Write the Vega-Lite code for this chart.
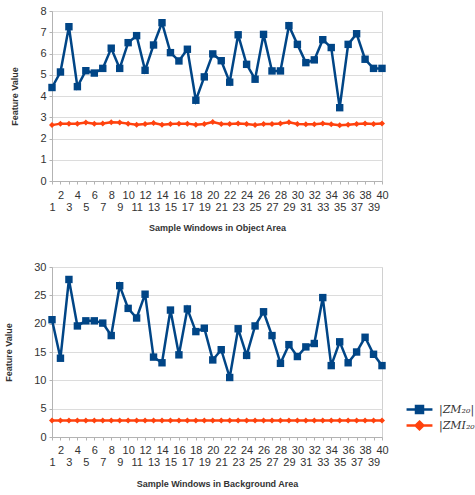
{
  "$schema": "https://vega.github.io/schema/vega-lite/v6.json",
  "background": "white",
  "padding": {"left": 4, "top": 4, "right": 0, "bottom": 0},
  "spacing": 27,
  "config": {
    "view": {"stroke": "#d0d0d0", "strokeWidth": 1},
    "axis": {
      "labelFont": "Liberation Sans", "labelFontSize": 11, "labelColor": "#333333",
      "titleFont": "Liberation Sans", "titleFontSize": 9, "titleFontWeight": "bold", "titleColor": "#333333",
      "domainColor": "#b3b3b3", "tickColor": "#b3b3b3", "gridColor": "#dcdcdc", "tickSize": 3
    },
    "legend": {"labelFont": "DejaVu Serif", "labelFontStyle": "italic", "labelFontSize": 11, "labelColor": "#333333"}
  },
  "resolve": {"legend": {"color": "independent"}},
  "datasets": {
    "object": [
      {"w":1,"s":"ZM","v":4.40},{"w":2,"s":"ZM","v":5.13},{"w":3,"s":"ZM","v":7.26},{"w":4,"s":"ZM","v":4.44},{"w":5,"s":"ZM","v":5.19},
      {"w":6,"s":"ZM","v":5.08},{"w":7,"s":"ZM","v":5.30},{"w":8,"s":"ZM","v":6.25},{"w":9,"s":"ZM","v":5.30},{"w":10,"s":"ZM","v":6.51},
      {"w":11,"s":"ZM","v":6.84},{"w":12,"s":"ZM","v":5.21},{"w":13,"s":"ZM","v":6.40},{"w":14,"s":"ZM","v":7.45},{"w":15,"s":"ZM","v":6.04},
      {"w":16,"s":"ZM","v":5.65},{"w":17,"s":"ZM","v":6.20},{"w":18,"s":"ZM","v":3.80},{"w":19,"s":"ZM","v":4.90},{"w":20,"s":"ZM","v":5.98},
      {"w":21,"s":"ZM","v":5.66},{"w":22,"s":"ZM","v":4.65},{"w":23,"s":"ZM","v":6.88},{"w":24,"s":"ZM","v":5.49},{"w":25,"s":"ZM","v":4.79},
      {"w":26,"s":"ZM","v":6.90},{"w":27,"s":"ZM","v":5.18},{"w":28,"s":"ZM","v":5.18},{"w":29,"s":"ZM","v":7.31},{"w":30,"s":"ZM","v":6.43},
      {"w":31,"s":"ZM","v":5.57},{"w":32,"s":"ZM","v":5.70},{"w":33,"s":"ZM","v":6.65},{"w":34,"s":"ZM","v":6.28},{"w":35,"s":"ZM","v":3.45},
      {"w":36,"s":"ZM","v":6.43},{"w":37,"s":"ZM","v":6.93},{"w":38,"s":"ZM","v":5.73},{"w":39,"s":"ZM","v":5.30},{"w":40,"s":"ZM","v":5.30},
      {"w":1,"s":"ZMI","v":2.63},{"w":2,"s":"ZMI","v":2.70},{"w":3,"s":"ZMI","v":2.70},{"w":4,"s":"ZMI","v":2.70},{"w":5,"s":"ZMI","v":2.75},
      {"w":6,"s":"ZMI","v":2.70},{"w":7,"s":"ZMI","v":2.71},{"w":8,"s":"ZMI","v":2.76},{"w":9,"s":"ZMI","v":2.75},{"w":10,"s":"ZMI","v":2.70},
      {"w":11,"s":"ZMI","v":2.65},{"w":12,"s":"ZMI","v":2.68},{"w":13,"s":"ZMI","v":2.73},{"w":14,"s":"ZMI","v":2.65},{"w":15,"s":"ZMI","v":2.68},
      {"w":16,"s":"ZMI","v":2.70},{"w":17,"s":"ZMI","v":2.70},{"w":18,"s":"ZMI","v":2.65},{"w":19,"s":"ZMI","v":2.68},{"w":20,"s":"ZMI","v":2.78},
      {"w":21,"s":"ZMI","v":2.68},{"w":22,"s":"ZMI","v":2.68},{"w":23,"s":"ZMI","v":2.71},{"w":24,"s":"ZMI","v":2.68},{"w":25,"s":"ZMI","v":2.63},
      {"w":26,"s":"ZMI","v":2.68},{"w":27,"s":"ZMI","v":2.68},{"w":28,"s":"ZMI","v":2.71},{"w":29,"s":"ZMI","v":2.76},{"w":30,"s":"ZMI","v":2.68},
      {"w":31,"s":"ZMI","v":2.67},{"w":32,"s":"ZMI","v":2.67},{"w":33,"s":"ZMI","v":2.71},{"w":34,"s":"ZMI","v":2.67},{"w":35,"s":"ZMI","v":2.62},
      {"w":36,"s":"ZMI","v":2.65},{"w":37,"s":"ZMI","v":2.68},{"w":38,"s":"ZMI","v":2.71},{"w":39,"s":"ZMI","v":2.68},{"w":40,"s":"ZMI","v":2.71}
    ],
    "background": [
      {"w":1,"s":"ZM","v":20.7},{"w":2,"s":"ZM","v":13.9},{"w":3,"s":"ZM","v":27.8},{"w":4,"s":"ZM","v":19.6},{"w":5,"s":"ZM","v":20.5},
      {"w":6,"s":"ZM","v":20.5},{"w":7,"s":"ZM","v":20.1},{"w":8,"s":"ZM","v":17.9},{"w":9,"s":"ZM","v":26.7},{"w":10,"s":"ZM","v":22.7},
      {"w":11,"s":"ZM","v":21.0},{"w":12,"s":"ZM","v":25.2},{"w":13,"s":"ZM","v":14.1},{"w":14,"s":"ZM","v":13.1},{"w":15,"s":"ZM","v":22.4},
      {"w":16,"s":"ZM","v":14.5},{"w":17,"s":"ZM","v":22.6},{"w":18,"s":"ZM","v":18.6},{"w":19,"s":"ZM","v":19.2},{"w":20,"s":"ZM","v":13.6},
      {"w":21,"s":"ZM","v":15.4},{"w":22,"s":"ZM","v":10.5},{"w":23,"s":"ZM","v":19.1},{"w":24,"s":"ZM","v":14.4},{"w":25,"s":"ZM","v":19.6},
      {"w":26,"s":"ZM","v":22.1},{"w":27,"s":"ZM","v":17.9},{"w":28,"s":"ZM","v":13.0},{"w":29,"s":"ZM","v":16.3},{"w":30,"s":"ZM","v":14.2},
      {"w":31,"s":"ZM","v":15.9},{"w":32,"s":"ZM","v":16.5},{"w":33,"s":"ZM","v":24.6},{"w":34,"s":"ZM","v":12.6},{"w":35,"s":"ZM","v":16.8},
      {"w":36,"s":"ZM","v":13.1},{"w":37,"s":"ZM","v":15.0},{"w":38,"s":"ZM","v":17.6},{"w":39,"s":"ZM","v":14.6},{"w":40,"s":"ZM","v":12.6},
      {"w":1,"s":"ZMI","v":2.9},{"w":2,"s":"ZMI","v":2.9},{"w":3,"s":"ZMI","v":2.9},{"w":4,"s":"ZMI","v":2.9},{"w":5,"s":"ZMI","v":2.9},
      {"w":6,"s":"ZMI","v":2.9},{"w":7,"s":"ZMI","v":2.9},{"w":8,"s":"ZMI","v":2.9},{"w":9,"s":"ZMI","v":2.9},{"w":10,"s":"ZMI","v":2.9},
      {"w":11,"s":"ZMI","v":2.9},{"w":12,"s":"ZMI","v":2.9},{"w":13,"s":"ZMI","v":2.9},{"w":14,"s":"ZMI","v":2.9},{"w":15,"s":"ZMI","v":2.9},
      {"w":16,"s":"ZMI","v":2.9},{"w":17,"s":"ZMI","v":2.9},{"w":18,"s":"ZMI","v":2.9},{"w":19,"s":"ZMI","v":2.9},{"w":20,"s":"ZMI","v":2.9},
      {"w":21,"s":"ZMI","v":2.9},{"w":22,"s":"ZMI","v":2.9},{"w":23,"s":"ZMI","v":2.9},{"w":24,"s":"ZMI","v":2.9},{"w":25,"s":"ZMI","v":2.9},
      {"w":26,"s":"ZMI","v":2.9},{"w":27,"s":"ZMI","v":2.9},{"w":28,"s":"ZMI","v":2.9},{"w":29,"s":"ZMI","v":2.9},{"w":30,"s":"ZMI","v":2.9},
      {"w":31,"s":"ZMI","v":2.9},{"w":32,"s":"ZMI","v":2.9},{"w":33,"s":"ZMI","v":2.9},{"w":34,"s":"ZMI","v":2.9},{"w":35,"s":"ZMI","v":2.9},
      {"w":36,"s":"ZMI","v":2.9},{"w":37,"s":"ZMI","v":2.9},{"w":38,"s":"ZMI","v":2.9},{"w":39,"s":"ZMI","v":2.9},{"w":40,"s":"ZMI","v":2.9}
    ]
  },
  "vconcat": [
    {
      "width": 330, "height": 170,
      "data": {"name": "object"},
      "encoding": {
        "x": {"field": "w", "type": "quantitative", "scale": {"domain": [1, 40], "nice": false, "zero": false},
          "axis": {"title": "Sample Windows in Object Area", "grid": false, "values": [1,2,3,4,5,6,7,8,9,10,11,12,13,14,15,16,17,18,19,20,21,22,23,24,25,26,27,28,29,30,31,32,33,34,35,36,37,38,39,40],
            "labelExpr": "datum.value % 2 == 1 ? ['', datum.label] : datum.label", "labelOverlap": false, "labelBound": false, "labelFlush": false, "labelLineHeight": 12, "labelPadding": 5, "titlePadding": 11}},
        "y": {"field": "v", "type": "quantitative", "scale": {"domain": [0, 8], "nice": false},
          "axis": {"title": "Feature Value", "values": [0,1,2,3,4,5,6,7,8], "labelPadding": 3, "titlePadding": 20}},
        "color": {"field": "s", "type": "nominal", "scale": {"domain": ["ZM", "ZMI"], "range": ["#004586", "#ff420e"]}, "legend": null}
      },
      "layer": [
        {"mark": {"type": "line", "strokeWidth": 2.5}},
        {"mark": {"type": "point", "filled": true, "opacity": 1},
          "encoding": {
            "shape": {"field": "s", "type": "nominal", "scale": {"domain": ["ZM", "ZMI"], "range": ["square", "diamond"]}, "legend": null},
            "size": {"field": "s", "type": "nominal", "scale": {"domain": ["ZM", "ZMI"], "range": [55, 36]}, "legend": null}
          }}
      ]
    },
    {
      "width": 330, "height": 170,
      "data": {"name": "background"},
      "encoding": {
        "x": {"field": "w", "type": "quantitative", "scale": {"domain": [1, 40], "nice": false, "zero": false},
          "axis": {"title": "Sample Windows in Background Area", "grid": false, "values": [1,2,3,4,5,6,7,8,9,10,11,12,13,14,15,16,17,18,19,20,21,22,23,24,25,26,27,28,29,30,31,32,33,34,35,36,37,38,39,40],
            "labelExpr": "datum.value % 2 == 1 ? ['', datum.label] : datum.label", "labelOverlap": false, "labelBound": false, "labelFlush": false, "labelLineHeight": 12, "labelPadding": 4, "titlePadding": 12}},
        "y": {"field": "v", "type": "quantitative", "scale": {"domain": [0, 30], "nice": false},
          "axis": {"title": "Feature Value", "values": [0,5,10,15,20,25,30], "labelPadding": 3, "titlePadding": 20}},
        "color": {"field": "s", "type": "nominal", "scale": {"domain": ["ZM", "ZMI"], "range": ["#004586", "#ff420e"]},
          "legend": {"title": null, "orient": "none", "legendX": 362, "legendY": 137, "padding": 0, "rowPadding": -2,
            "symbolSize": 49, "symbolStrokeWidth": 2.5, "labelOffset": 14,
            "labelExpr": "datum.label == 'ZM' ? '|ZM₂₀|' : '|ZMI₂₀|'",
            "encode": {"symbols": {"update": {
              "shape": {"signal": "datum.value == 'ZM' ? 'M-3.7,0H3.7M-1,-1H1V1H-1Z' : 'M-3.7,0H3.7M0,-1.1L1.1,0L0,1.1L-1.1,0Z'"},
              "stroke": {"scale": "color", "field": "value"},
              "fill": {"scale": "color", "field": "value"},
              "strokeWidth": {"value": 2.5},
              "opacity": {"value": 1}
            }}}}}
      },
      "layer": [
        {"mark": {"type": "line", "strokeWidth": 2.5}},
        {"mark": {"type": "point", "filled": true, "opacity": 1},
          "encoding": {
            "shape": {"field": "s", "type": "nominal", "scale": {"domain": ["ZM", "ZMI"], "range": ["square", "diamond"]}, "legend": null},
            "size": {"field": "s", "type": "nominal", "scale": {"domain": ["ZM", "ZMI"], "range": [55, 36]}, "legend": null}
          }}
      ]
    }
  ]
}
